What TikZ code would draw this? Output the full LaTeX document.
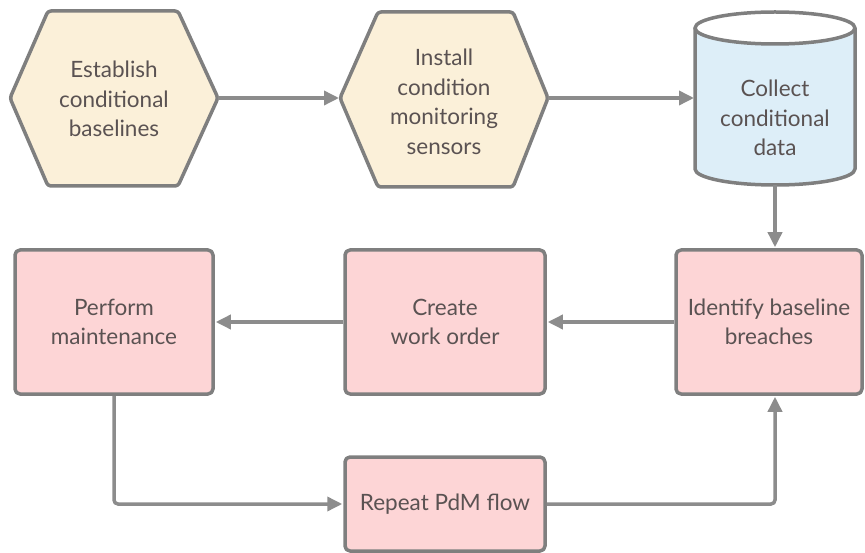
\documentclass[tikz,border=0pt]{standalone}
\usepackage{fontspec}
\setmainfont{Lato}
\usetikzlibrary{arrows.meta,calc}
\definecolor{bordergray}{HTML}{7F7F7F}
\definecolor{linegray}{HTML}{8C8C8C}
\definecolor{hexfill}{HTML}{FBF0D9}
\definecolor{cylfill}{HTML}{DDEEF8}
\definecolor{boxfill}{HTML}{FDD5D6}
\definecolor{txtgray}{HTML}{5A5252}
\tikzset{
  shapeline/.style={draw=bordergray, line width=3.5pt, line join=round},
  hexbox/.style={shapeline, fill=hexfill, rounded corners=3pt},
  cylbox/.style={shapeline, fill=cylfill},
  label/.style={text=txtgray, align=center, font=\fontsize{22.5}{29.5}\selectfont, inner sep=0pt},
  stepbox/.style={shapeline, fill=boxfill, rounded corners=5pt, label, rectangle},
  flow/.style={draw=linegray, line width=3.5pt, -{Triangle[length=15pt,width=14pt]}, shorten >=1pt}
}
\begin{document}
\begin{tikzpicture}[x=1pt,y=-1pt]
\useasboundingbox (0,0) rectangle (865,553);
% hexagon 1
\coordinate (h1l) at (10,98);
\coordinate (h1r) at (218,98);
\draw[hexbox] (h1l) -- (48,11) -- (178,11) -- (h1r) -- (178,186) -- (48,186) -- cycle;
\node[label] (t1) at (114,99) {Establish\\conditional\\baselines};
% hexagon 2
\coordinate (h2l) at (340,98);
\coordinate (h2r) at (548,98);
\draw[hexbox] (h2l) -- (378,12) -- (513,12) -- (h2r) -- (513,187) -- (378,187) -- cycle;
\node[label] (t2) at (444,102) {Install\\condition\\monitoring\\sensors};
% cylinder
\coordinate (cylL) at (695,98);
\coordinate (cylB) at (775,185);
\path[fill=cylfill] (695,28) -- (695,169) arc (180:0:80 and 16) -- (855,28) arc (0:180:80 and 16) -- cycle;
\draw[shapeline] (695,28) -- (695,169) arc (180:0:80 and 16) -- (855,28);
\draw[shapeline] (775,28) ellipse (80 and 16);
\node[label] (t3) at (775,118) {Collect\\conditional\\data};
% boxes
\node[stepbox, minimum width=198pt, minimum height=144pt] (perform) at (114,322) {Perform\\maintenance};
\node[stepbox, minimum width=200pt, minimum height=144pt] (create) at (445,322) {Create\\work order};
\node[stepbox, minimum width=186pt, minimum height=144pt] (ident) at (769,322) {Identify baseline\\breaches};
\node[stepbox, minimum width=200pt, minimum height=94pt] (repeat) at (445,504) {Repeat PdM flow};
% connectors
\draw[flow] (h1r) -- (h2l);
\draw[flow] (h2r) -- (cylL);
\draw[flow] (cylB) -- (cylB |- ident.north);
\draw[flow] (ident.west) -- (create.east);
\draw[flow] (create.west) -- (perform.east);
\draw[flow, rounded corners=4pt] (perform.south) |- (repeat.west);
\draw[flow, rounded corners=4pt] (repeat.east) -| (cylB |- ident.south);
\end{tikzpicture}
\end{document}
